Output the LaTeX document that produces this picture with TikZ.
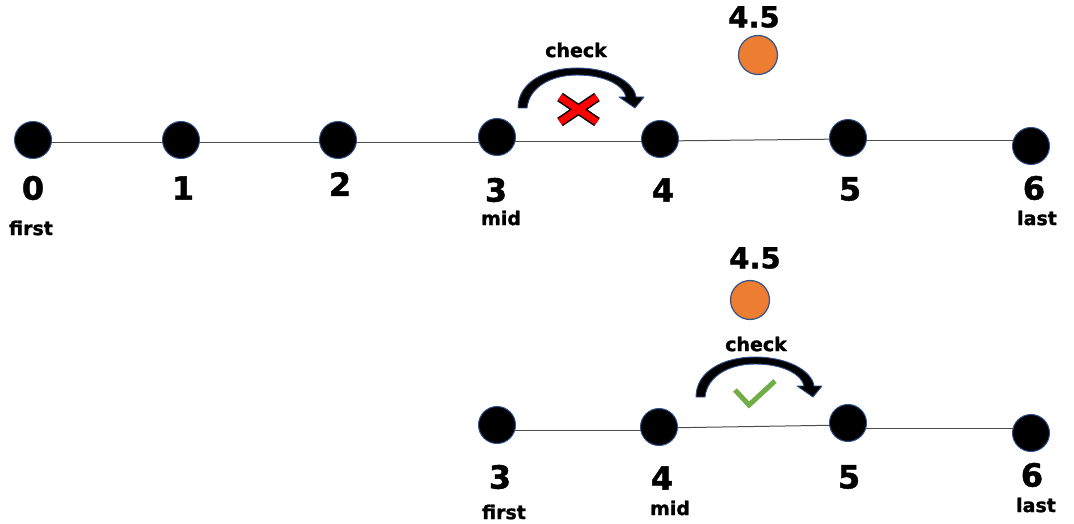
\documentclass[tikz,border=0pt]{standalone}
\usepackage{fontspec}
\setmainfont{DejaVu Sans}[BoldFont={DejaVu Sans Bold},BoldFeatures={FakeBold=1.3}]
\usetikzlibrary{backgrounds}
\begin{document}
\begin{tikzpicture}[x=1pt,y=-1pt,
  dot/.style={circle,fill=black,draw=outl,line width=1pt,minimum size=37pt,inner sep=0pt},
  orangedot/.style={circle,fill=dotorange,draw=outl,line width=1.2pt,minimum size=39pt,inner sep=0pt},
  edge/.style={draw=black!70,line width=1pt},
  numlbl/.style={font=\bfseries\fontsize{32}{32}\selectfont,inner sep=0pt},
  halflbl/.style={font=\bfseries\fontsize{29}{29}\selectfont,inner sep=0pt},
  smalllbl/.style={font=\bfseries\fontsize{19}{19}\selectfont,inner sep=0pt},
  arcarrow/.style={fill=black,draw=outl,line width=0.9pt,line join=round},
  crossout/.style={draw=black,line width=10pt},
  crossin/.style={draw=red,line width=7pt},
  tick/.style={draw=chkgreen,line width=5pt}
]
\definecolor{chkgreen}{HTML}{70AD47}
\definecolor{dotorange}{HTML}{ED7D31}
\definecolor{outl}{HTML}{2F528F}
\useasboundingbox (0,0) rectangle (1074,524);
% top row
\node[dot] (t0) at (33,140) {};
\node[dot] (t1) at (181,140) {};
\node[dot] (t2) at (338,140) {};
\node[dot] (t3) at (497,137) {};
\node[dot] (t4) at (660,139) {};
\node[dot] (t5) at (848,138) {};
\node[dot] (t6) at (1031,146) {};
\begin{scope}[on background layer]
\draw[edge] (t0 |- 0,143) -- (t1 |- 0,143);
\draw[edge] (t1 |- 0,143) -- (t2 |- 0,143);
\draw[edge] (t2 |- 0,143) -- (t3 |- 0,143);
\draw[edge] (t3 |- 0,142) -- (t4 |- 0,142);
\draw[edge] (t4 |- 0,141) -- (t5 |- 0,139);
\draw[edge] (t5 |- 0,141) -- (t6 |- 0,141);
\end{scope}
\node[numlbl] (lt0) at (33,188) {0};
\node[numlbl] (lt1) at (183,188) {1};
\node[numlbl] (lt2) at (340,184) {2};
\node[numlbl] (lt3) at (496,190) {3};
\node[numlbl] (lt4) at (663,190) {4};
\node[numlbl] (lt5) at (850,189) {5};
\node[numlbl] (lt6) at (1034,188) {6};
\node[smalllbl] (ft) at (31,228) {first};
\node[smalllbl] (mt) at (501,218) {mid};
\node[smalllbl] (lt) at (1037,218) {last};
\node[orangedot] (ot) at (758,55) {};
\node[halflbl] (ht) at (754,17) {4.5};
\node[smalllbl] (ct) at (576,50) {check};
\draw[arcarrow,shift={(518,108)},yscale=-1]
  (0,0) .. controls (0,26) and (28,40) .. (59,40) .. controls (92,40) and (116,26) .. (118,11)
  -- (126,11) -- (117,0) -- (101,11) -- (108,11)
  .. controls (106,22) and (88,33) .. (59,33) .. controls (32,33) and (11,20) .. (9,0) -- cycle;
\coordinate (xa) at (560,97);
\coordinate (xb) at (597,122);
\coordinate (xc) at (560,122);
\coordinate (xd) at (597,97);
\draw[crossout] (xa) -- (xb) (xc) -- (xd);
\draw[crossin] (xa) -- (xb) (xc) -- (xd);
% bottom row
\node[dot] (b3) at (497,425) {};
\node[dot] (b4) at (659,427) {};
\node[dot] (b5) at (848,423) {};
\node[dot] (b6) at (1031,433) {};
\begin{scope}[on background layer]
\draw[edge] (b3 |- 0,430) -- (b4 |- 0,430);
\draw[edge] (b4 |- 0,428) -- (b5 |- 0,425);
\draw[edge] (b5 |- 0,428) -- (b6 |- 0,428);
\end{scope}
\node[numlbl] (lb3) at (500,477) {3};
\node[numlbl] (lb4) at (662,478) {4};
\node[numlbl] (lb5) at (849,477) {5};
\node[numlbl] (lb6) at (1032,475) {6};
\node[smalllbl] (fb) at (504,512) {first};
\node[smalllbl] (mb) at (670,508) {mid};
\node[smalllbl] (lb) at (1036,505) {last};
\node[orangedot] (ob) at (750,300) {};
\node[halflbl] (hb) at (755,258) {4.5};
\node[smalllbl] (cb) at (756,344) {check};
\draw[arcarrow,shift={(696,397)},yscale=-1]
  (0,0) .. controls (0,26) and (28,40) .. (59,40) .. controls (92,40) and (116,26) .. (118,11)
  -- (126,11) -- (117,0) -- (101,11) -- (108,11)
  .. controls (106,22) and (88,33) .. (59,33) .. controls (32,33) and (11,20) .. (9,0) -- cycle;
\coordinate (ca) at (735,390);
\coordinate (cm) at (749,405);
\coordinate (cc) at (775,381);
\draw[tick] (ca) -- (cm) -- (cc);
\end{tikzpicture}
\end{document}
